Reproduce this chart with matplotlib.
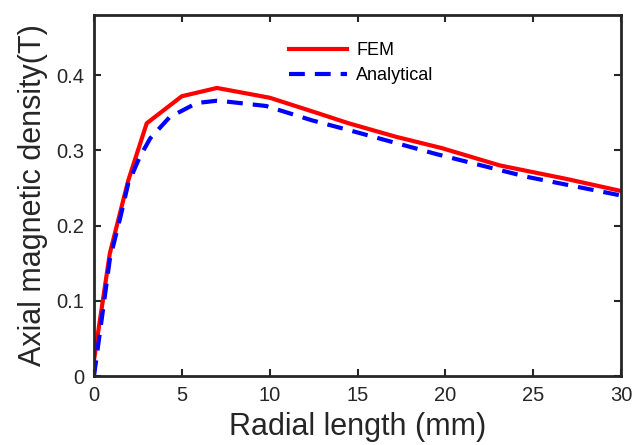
import matplotlib
matplotlib.use("Agg")
import matplotlib.pyplot as plt

plt.rcParams['font.family'] = ['Liberation Sans', 'DejaVu Sans']

# Valores
x_fem = [0, 0.9, 1.95, 3.0, 5.0, 7.0, 10.0, 12.8, 14.5, 17.2, 19.8, 23.1, 26.9, 30]
y_fem = [0.021, 0.163, 0.26, 0.336, 0.372, 0.383, 0.370, 0.349, 0.336, 0.318, 0.303, 0.280, 0.262, 0.246]

x_ana = [0, 0.9, 1.5, 1.95, 2.6, 3.2, 4.3, 5.85, 7.0, 7.5, 9.8, 12.4, 14.5, 19.5, 24.6, 30]
y_ana = [0.0, 0.155, 0.211, 0.256, 0.291, 0.316, 0.344, 0.363, 0.366, 0.365, 0.359, 0.340, 0.327, 0.295, 0.265, 0.240]

xticks = [0, 5, 10, 15, 20, 25, 30]
yticks = [0, 0.1, 0.2, 0.3, 0.4]
ytick_labels = ["0", "0.1", "0.2", "0.3", "0.4"]

fig = plt.figure(figsize=(6.34, 4.45), dpi=100)
ax = fig.add_axes([94 / 634, 1 - 376 / 445, 527 / 634, 361 / 445])

ax.plot(x_fem, y_fem, color="#ff0000", lw=3, label="FEM")
ax.plot(x_ana, y_ana, color="#0000ff", lw=3, ls=(0, (3.8, 2.4)), label="Analytical")

ax.set_xlim(0, 30)
ax.set_ylim(0, 0.48)
ax.set_xticks(xticks)
ax.set_yticks(yticks)
ax.set_yticklabels(ytick_labels)
ax.tick_params(direction="in", top=True, right=True, length=5, width=1.5,
               labelsize=14.5, color="#262626", labelcolor="#262626", pad=7)
for s in ax.spines.values():
    s.set_linewidth(2)
    s.set_color("#262626")

ax.set_xlabel("Radial length (mm)", fontsize=22, color="#262626", labelpad=5)
ax.set_ylabel("Axial magnetic density(T)", fontsize=22, color="#262626", labelpad=6)

leg = ax.legend(loc="upper left", bbox_to_anchor=(0.34, 0.97), frameon=False,
                fontsize=13, handlelength=3.2, handletextpad=0.5, labelspacing=0.45)

fig.savefig("out.png", dpi=100)
